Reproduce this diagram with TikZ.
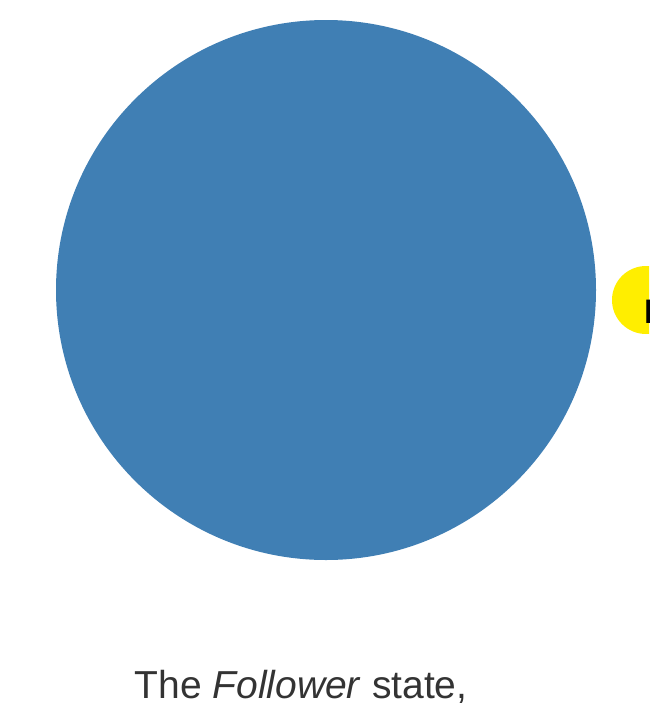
\documentclass[tikz,border=0pt]{standalone}
\usepackage{fontspec}
\setmainfont{Liberation Sans}
\definecolor{nodeblue}{RGB}{64,127,180}
\definecolor{nodeyellow}{RGB}{255,238,0}
\begin{document}
\begin{tikzpicture}[x=1pt,y=-1pt,
  statecircle/.style={circle,fill=nodeblue,draw=none,inner sep=0pt,minimum size=540pt},
  candcircle/.style={circle,fill=nodeyellow,draw=none,inner sep=0pt,minimum size=68pt},
  caption/.style={font=\fontsize{39}{46}\selectfont,text=black!80,anchor=base}]
\useasboundingbox (0,0) rectangle (649,707);
\clip (0,0) rectangle (649,707);
\node[statecircle] (follower) at (326,290) {};
\node[candcircle] (other) at (646,300) {};
\node[font=\fontsize{34}{40}\selectfont\bfseries,anchor=west,inner sep=0pt] (otherlabel) at (644,312) {F};
\node[caption] (cap) at (301,698) {The \textit{Follower} state,};
\end{tikzpicture}
\end{document}
